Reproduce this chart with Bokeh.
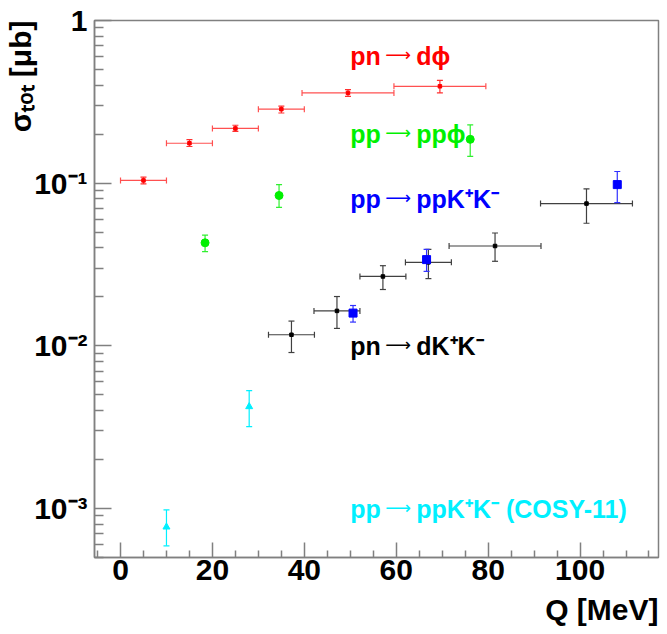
from bokeh.plotting import figure
from bokeh.models import Range1d, FixedTicker, Whisker, TeeHead, ColumnDataSource, Label, Title
from bokeh.embed import file_html
from bokeh.resources import INLINE

# ---------------- data ----------------
# pn -> d phi
dphi_q = [5.0, 15.0, 25.0, 35.0, 49.5, 69.5]
dphi_qerr = [5.0, 5.0, 5.0, 5.0, 10.0, 10.0]
dphi_sig = [0.104, 0.176, 0.217, 0.285, 0.359, 0.394]
dphi_err_hi = [0.005, 0.009, 0.010, 0.013, 0.017, 0.034]
dphi_err_lo = [0.005, 0.008, 0.009, 0.015, 0.017, 0.035]

# pp -> pp phi
ppphi_q = [18.4, 34.5, 76.1]
ppphi_sig = [0.043, 0.084, 0.186]
ppphi_err_hi = [0.005, 0.014, 0.042]
ppphi_err_lo = [0.005, 0.013, 0.040]

# pp -> pp K+ K-
ppkk_q = [50.6, 66.6, 108.1]
ppkk_sig = [0.0159, 0.0339, 0.098]
ppkk_err_hi = [0.0018, 0.0053, 0.020]
ppkk_err_lo = [0.0019, 0.0052, 0.022]

# pn -> d K+ K-
dkk_q = [37.2, 47.1, 57.1, 67.0, 81.5, 101.4]
dkk_qerr = [5.0, 5.0, 5.0, 5.0, 10.0, 10.0]
dkk_sig = [0.0117, 0.0164, 0.0267, 0.0326, 0.0411, 0.0749]
dkk_err_hi = [0.0025, 0.0037, 0.0044, 0.0066, 0.0083, 0.0173]
dkk_err_lo = [0.0026, 0.0036, 0.0045, 0.0067, 0.0080, 0.0182]

# pp -> pp K+ K- (COSY-11)
cosy_q = [10.0, 28.0]
cosy_sig = [0.00077, 0.00423]
cosy_err_hi = [0.00021, 0.00107]
cosy_err_lo = [0.00018, 0.00104]

x_major = [0, 20, 40, 60, 80, 100]
x_minor = [-5, 5, 10, 15, 25, 30, 35, 45, 50, 55, 65, 70, 75, 85, 90, 95, 105, 110, 115]
y_major = [0.001, 0.01, 0.1, 1.0]
y_major_labels = ["10\u207b\u00b3", "10\u207b\u00b2", "10\u207b\u00b9", "1"]
y_minor = [m * d for d in [0.0001, 0.001, 0.01, 0.1] for m in range(2, 10)]

x_title = "Q [MeV]"
y_title = "\u03c3\u209c\u2092\u209c [\u03bcb]"

# reaction labels: initial state, arrow, final state
ann_left = ["pn", "pp", "pp", "pn", "pp"]
ann_right = ["d\u03d5", "pp\u03d5", "ppK\u207aK\u207b", "dK\u207aK\u207b", "ppK\u207aK\u207b (COSY-11)"]
ann_colors = ["#ff0000", "#00f000", "#0000ff", "#000000", "#00f0ff"]
ann_y = [0.609, 0.2018, 0.0804, 0.01003, 0.000998]

FONT = "Liberation Sans"
AXC = "#808080"

p = figure(width=667, height=634, y_axis_type="log",
           x_range=Range1d(-5.66, 117.07), y_range=Range1d(5e-4, 1.0),
           min_border_left=94, min_border_right=9, min_border_top=20, min_border_bottom=77,
           output_backend="svg", toolbar_location=None)
p.grid.visible = False
p.outline_line_color = AXC
p.outline_line_width = 1.5
p.background_fill_color = "white"
p.border_fill_color = "white"

# axes
p.xaxis.ticker = FixedTicker(ticks=x_major, minor_ticks=x_minor)
p.yaxis.ticker = FixedTicker(ticks=y_major, minor_ticks=y_minor)
p.yaxis.major_label_overrides = {t: l for t, l in zip(y_major, y_major_labels)}
for ax in (p.xaxis, p.yaxis):
    ax.axis_line_color = AXC
    ax.axis_line_width = 1.5
    ax.major_tick_line_color = AXC
    ax.minor_tick_line_color = AXC
    ax.major_tick_line_width = 1.5
    ax.minor_tick_line_width = 1.5
    ax.major_tick_out = 0
    ax.minor_tick_out = 0
    ax.major_label_text_font = FONT
    ax.major_label_text_font_style = "bold"
    ax.major_label_text_color = "black"
p.xaxis.major_label_text_font_size = "30px"
p.yaxis.major_label_text_font_size = "30px"
p.xaxis.major_tick_in = 15
p.xaxis.minor_tick_in = 7
p.yaxis.major_tick_in = 17
p.yaxis.minor_tick_in = 9
p.xaxis.major_label_standoff = 2
p.yaxis.major_label_standoff = 7

# axis titles (right / top aligned as in the original)
p.add_layout(Title(text=x_title, align="right", text_font=FONT, text_font_style="bold",
                   text_font_size="30px", text_color="black", standoff=16), "below")
p.add_layout(Title(text=y_title, align="right", text_font=FONT, text_font_style="bold",
                   text_font_size="30px", text_color="black", standoff=-10), "left")


def verr(q, s, lo, hi, color):
    src = ColumnDataSource(dict(q=q, lo=[a - b for a, b in zip(s, lo)], up=[a + b for a, b in zip(s, hi)]))
    p.add_layout(Whisker(source=src, base="q", lower="lo", upper="up", dimension="height",
                         line_color=color, line_width=1.2,
                         lower_head=TeeHead(size=6, line_color=color, line_width=1.2),
                         upper_head=TeeHead(size=6, line_color=color, line_width=1.2)))


def herr(q, qe, s, color):
    src = ColumnDataSource(dict(s=s, lo=[a - b for a, b in zip(q, qe)], up=[a + b for a, b in zip(q, qe)]))
    p.add_layout(Whisker(source=src, base="s", lower="lo", upper="up", dimension="width",
                         line_color=color, line_width=1.2,
                         lower_head=TeeHead(size=6, line_color=color, line_width=1.2),
                         upper_head=TeeHead(size=6, line_color=color, line_width=1.2)))


# pn -> d phi (red)
herr(dphi_q, dphi_qerr, dphi_sig, "#ff5050")
verr(dphi_q, dphi_sig, dphi_err_lo, dphi_err_hi, "#ff3030")
p.scatter(dphi_q, dphi_sig, marker="square", size=3.5, color="#ff0000")

# pn -> dK+K- (black)
herr(dkk_q, dkk_qerr, dkk_sig, "#404040")
verr(dkk_q, dkk_sig, dkk_err_lo, dkk_err_hi, "#404040")
p.scatter(dkk_q, dkk_sig, marker="square", size=3.5, color="black")

# pp -> pp phi (green)
verr(ppphi_q, ppphi_sig, ppphi_err_lo, ppphi_err_hi, "#30f030")
p.scatter(ppphi_q, ppphi_sig, marker="circle", size=8, color="#00f000")

# pp -> ppK+K- (blue)
verr(ppkk_q, ppkk_sig, ppkk_err_lo, ppkk_err_hi, "#3030ff")
p.scatter(ppkk_q, ppkk_sig, marker="square", size=8, color="#0000ff")

# COSY-11 (cyan)
verr(cosy_q, cosy_sig, cosy_err_lo, cosy_err_hi, "#00f0ff")
p.scatter(cosy_q, cosy_sig, marker="triangle", size=7, color="#00f0ff")

# reaction labels
for tl, tr, c, y in zip(ann_left, ann_right, ann_colors, ann_y):
    p.add_layout(Label(x=50, y=y, text=tl, text_color=c, text_font=FONT, text_font_style="bold",
                       text_font_size="25px", text_baseline="alphabetic", text_align="left"))
    p.add_layout(Label(x=50, y=y, text="\u27f6", text_color=c, text_font="DejaVu Sans",
                       text_font_size="18px", text_baseline="alphabetic", text_align="left",
                       x_offset=35, y_offset=1))
    p.add_layout(Label(x=50, y=y, text=tr, text_color=c, text_font=FONT, text_font_style="bold",
                       text_font_size="25px", text_baseline="alphabetic", text_align="left",
                       x_offset=66))

open("out.html", "w").write(file_html(p, INLINE))
